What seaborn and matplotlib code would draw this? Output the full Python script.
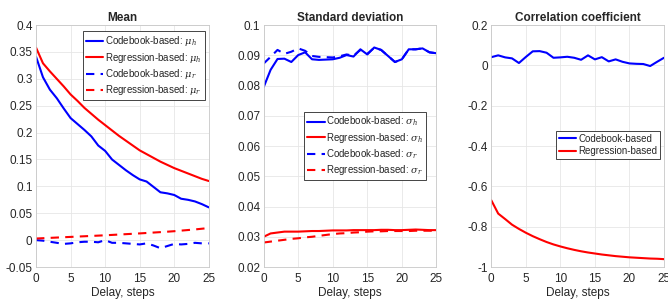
import numpy as np
import pandas as pd
import matplotlib
matplotlib.use("Agg")
import matplotlib.pyplot as plt
import seaborn as sns

delay = list(range(26))

# Mean
mu_h_codebook = [0.341, 0.303, 0.280, 0.264, 0.245, 0.227, 0.216, 0.205, 0.193, 0.176, 0.166,
                 0.150, 0.140, 0.130, 0.121, 0.113, 0.109, 0.099, 0.089, 0.087, 0.084,
                 0.077, 0.075, 0.072, 0.067, 0.061]
mu_h_regression = [0.358, 0.329, 0.314, 0.300, 0.286, 0.271, 0.259, 0.246, 0.235, 0.224, 0.214,
                   0.204, 0.194, 0.185, 0.176, 0.167, 0.160, 0.153, 0.146, 0.140, 0.134,
                   0.129, 0.124, 0.119, 0.114, 0.110]
mu_r_codebook = [0.000, -0.001, -0.003, -0.005, -0.007, -0.006, -0.004, -0.003, -0.003, -0.004, 0.000,
                 -0.005, -0.005, -0.006, -0.007, -0.008, -0.006, -0.010, -0.015, -0.011, -0.007,
                 -0.008, -0.007, -0.005, -0.006, -0.006]
mu_r_regression = [0.003, 0.0036, 0.0042, 0.0048, 0.0054, 0.006, 0.0066, 0.0072, 0.0078, 0.0084, 0.009,
                   0.0097, 0.0104, 0.0111, 0.0118, 0.0125, 0.0133, 0.0141, 0.0149, 0.0157, 0.0166,
                   0.0177, 0.0188, 0.0199, 0.0212, 0.0225]

# Standard deviation
sd_h_codebook = [0.0795, 0.0852, 0.0888, 0.0889, 0.0878, 0.0901, 0.0910, 0.0887, 0.0885, 0.0886, 0.0887,
                 0.0892, 0.0901, 0.0896, 0.0920, 0.0903, 0.0926, 0.0918, 0.0898, 0.0878, 0.0887,
                 0.0920, 0.0920, 0.0923, 0.0910, 0.0907]
sd_h_regression = [0.0300, 0.0311, 0.0314, 0.0317, 0.0317, 0.0317, 0.0318, 0.0319, 0.0319, 0.0320, 0.0321,
                   0.0321, 0.0321, 0.0322, 0.0322, 0.0322, 0.0322, 0.0323, 0.0323, 0.0322, 0.0322,
                   0.0323, 0.0324, 0.0323, 0.0322, 0.0322]
sd_r_codebook = [0.0873, 0.0895, 0.0918, 0.0905, 0.0912, 0.0923, 0.0915, 0.0898, 0.0895, 0.0894, 0.0893,
                 0.0897, 0.0903, 0.0899, 0.0918, 0.0905, 0.0925, 0.0918, 0.0898, 0.0878, 0.0887,
                 0.0920, 0.0920, 0.0923, 0.0910, 0.0907]
sd_r_regression = [0.0281, 0.0284, 0.0287, 0.0290, 0.0293, 0.0295, 0.0298, 0.0300, 0.0303, 0.0306, 0.0309,
                   0.0311, 0.0312, 0.0314, 0.0315, 0.0317, 0.0318, 0.0318, 0.0319, 0.0319, 0.0319,
                   0.0319, 0.0320, 0.0320, 0.0320, 0.0320]

# Correlation coefficient
corr_codebook = [0.041, 0.050, 0.040, 0.035, 0.012, 0.042, 0.070, 0.071, 0.063, 0.038, 0.040,
                 0.043, 0.038, 0.028, 0.050, 0.030, 0.041, 0.020, 0.030, 0.018, 0.010,
                 0.008, 0.007, -0.003, 0.018, 0.038]
corr_regression = [-0.669, -0.735, -0.762, -0.790, -0.811, -0.830, -0.847, -0.862, -0.876, -0.888, -0.898,
                   -0.907, -0.915, -0.922, -0.928, -0.933, -0.938, -0.942, -0.946, -0.949, -0.952,
                   -0.954, -0.956, -0.958, -0.959, -0.961]

titles = ["Mean", "Standard deviation", "Correlation coefficient"]
mean_yticks = [-0.05, 0, 0.05, 0.1, 0.15, 0.2, 0.25, 0.3, 0.35, 0.4]
sd_yticks = [0.02, 0.03, 0.04, 0.05, 0.06, 0.07, 0.08, 0.09, 0.1]
corr_yticks = [-1, -0.8, -0.6, -0.4, -0.2, 0, 0.2]
xticks = [0, 5, 10, 15, 20, 25]

sns.set_style("whitegrid")
plt.rcParams['font.family'] = ['Liberation Sans', 'DejaVu Sans']
plt.rcParams['mathtext.fontset'] = 'dejavuserif'

BLUE = '#0000ff'
RED = '#ff0000'
DASH = (0, (4, 3))

fig, axes = plt.subplots(1, 3, figsize=(6.68, 2.99), dpi=100)
fig.subplots_adjust(left=0.054, right=0.994, bottom=0.107, top=0.916, wspace=0.318)


def draw(ax, y, color, ls, label):
    df = pd.DataFrame({'delay': delay, 'value': y})
    sns.lineplot(data=df, x='delay', y='value', ax=ax, color=color,
                 linestyle=ls, linewidth=1.5, label=label)


def fmt(v):
    s = f"{v:.2f}".rstrip('0').rstrip('.')
    return '0' if s in ('-0', '0') else s


ax = axes[0]
draw(ax, mu_h_codebook, BLUE, '-', 'Codebook-based: $\\mu_h$')
draw(ax, mu_h_regression, RED, '-', 'Regression-based: $\\mu_h$')
draw(ax, mu_r_codebook, BLUE, DASH, 'Codebook-based: $\\mu_r$')
draw(ax, mu_r_regression, RED, DASH, 'Regression-based: $\\mu_r$')
ax.set_ylim(-0.05, 0.4)
ax.set_yticks(mean_yticks)

ax = axes[1]
draw(ax, sd_r_codebook, BLUE, DASH, None)
draw(ax, sd_h_codebook, BLUE, '-', None)
draw(ax, sd_h_regression, RED, '-', None)
draw(ax, sd_r_regression, RED, DASH, None)
ax.set_ylim(0.02, 0.1)
ax.set_yticks(sd_yticks)

ax = axes[2]
draw(ax, corr_codebook, BLUE, '-', 'Codebook-based')
draw(ax, corr_regression, RED, '-', 'Regression-based')
ax.set_ylim(-1, 0.2)
ax.set_yticks(corr_yticks)

for ax, title in zip(axes, titles):
    ax.set_xlim(0, 25)
    ax.set_xticks(xticks)
    ax.set_yticklabels([fmt(v) for v in ax.get_yticks()])
    ax.set_title(title, fontsize=8.5, fontweight='bold', pad=3)
    ax.set_xlabel('Delay, steps', fontsize=8.5, color='#262626', labelpad=2)
    ax.set_ylabel('')
    ax.tick_params(axis='both', labelsize=8.5, colors='#262626', length=0)
    ax.tick_params(axis='x', pad=4)
    ax.tick_params(axis='y', pad=2.5)
    ax.grid(True, color='#e6e6e6', linewidth=0.6)
    for sp in ax.spines.values():
        sp.set_color('#c8c8c8')
        sp.set_linewidth(0.6)

leg_kw = dict(fontsize=7, handlelength=1.8, handletextpad=0.2, borderpad=0.3,
              labelspacing=0.25, fancybox=False, framealpha=1, edgecolor='#262626')

axes[0].legend(loc='upper right', bbox_to_anchor=(1.005, 0.995), **leg_kw)

h = axes[1].get_lines()
axes[1].legend([h[1], h[2], h[0], h[3]],
               ['Codebook-based: $\\sigma_h$', 'Regression-based: $\\sigma_h$',
                'Codebook-based: $\\sigma_r$', 'Regression-based: $\\sigma_r$'],
               loc='center right', bbox_to_anchor=(0.97, 0.50), **leg_kw)

axes[2].legend(loc='center right', bbox_to_anchor=(1.005, 0.505), **leg_kw)

for leg in [a.get_legend() for a in axes]:
    leg.get_frame().set_linewidth(0.6)

plt.savefig('out.png', dpi=100)
plt.close()
